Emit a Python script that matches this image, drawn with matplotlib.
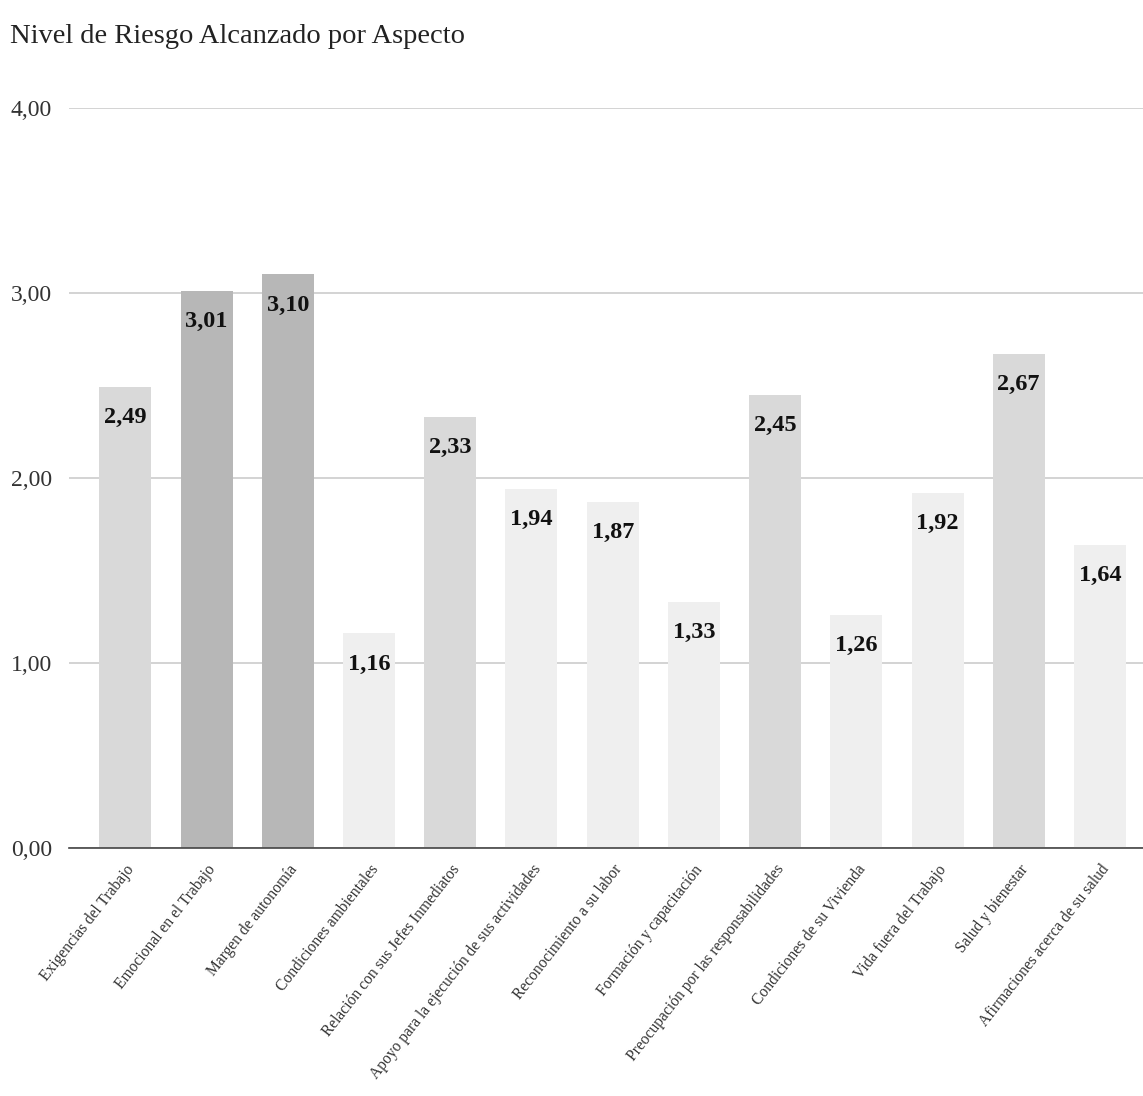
import numpy as np
import matplotlib.pyplot as plt

aspectos = [
    "Exigencias del Trabajo",
    "Emocional en el Trabajo",
    "Margen de autonomía",
    "Condiciones ambientales",
    "Relación con sus Jefes Inmediatos",
    "Apoyo para la ejecución de sus actividades",
    "Reconocimiento a su labor",
    "Formación y capacitación",
    "Preocupación por las responsabilidades",
    "Condiciones de su Vivienda",
    "Vida fuera del Trabajo",
    "Salud y bienestar",
    "Afirmaciones acerca de su salud",
]
nivel = [2.49, 3.01, 3.10, 1.16, 2.33, 1.94, 1.87, 1.33, 2.45, 1.26, 1.92, 2.67, 1.64]


def color_nivel(v):
    if v >= 3.0:
        return "#b7b7b7"
    if v >= 2.2:
        return "#d9d9d9"
    return "#efefef"


plt.rcParams['font.family'] = ['Liberation Serif', 'DejaVu Serif']

fig = plt.figure(figsize=(11.43, 10.96), dpi=100)
ax = fig.add_axes([0.06, 0.2263, 0.94, 0.6752])

x = np.arange(len(aspectos))
colores = [color_nivel(v) for v in nivel]
bars = ax.bar(x, nivel, width=0.64, color=colores, zorder=2)

# etiqueta del valor dentro de cada barra, bajo el borde superior
for b, v in zip(bars, nivel):
    ax.annotate(f"{v:.2f}".replace(".", ","),
                (b.get_x() + b.get_width() / 2, v),
                xytext=(0, -14.5), textcoords="offset points",
                ha="center", va="top", fontsize=17.5, fontweight="bold",
                color="#111111", zorder=3)

ax.set_ylim(0, 4)
ax.set_xlim(-0.7, 12.53)
ax.set_yticks([0, 1, 2, 3, 4])
ax.set_yticklabels([f"{t:.2f}".replace(".", ",") for t in [0, 1, 2, 3, 4]],
                   fontsize=17, color="#333333")
ax.set_xticks(x)
ax.set_xticklabels(aspectos, rotation=52, ha="right", rotation_mode="anchor",
                   fontsize=11.2, color="#333333")
ax.tick_params(axis="both", length=0)
ax.tick_params(axis="y", pad=12)
ax.tick_params(axis="x", pad=10)

ax.grid(axis="y", color="#cccccc", linewidth=1.2, zorder=0)
for s in ["top", "right", "left"]:
    ax.spines[s].set_visible(False)
ax.spines["bottom"].set_color("#444444")
ax.spines["bottom"].set_linewidth(1.2)
ax.spines["bottom"].set_zorder(3)

fig.text(0.009, 0.967, "Nivel de Riesgo Alcanzado por Aspecto", fontsize=20.5,
         color="#222222", va="center", ha="left")

fig.savefig("out.png", dpi=100)
